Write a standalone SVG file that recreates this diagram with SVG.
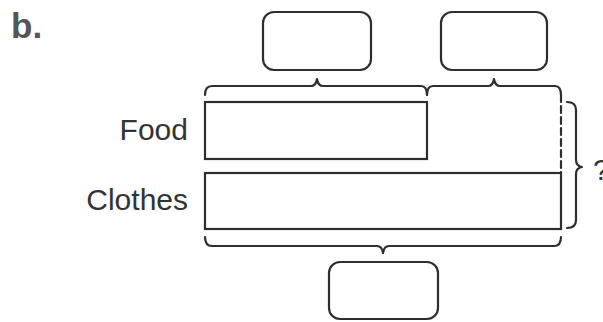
<svg xmlns="http://www.w3.org/2000/svg" width="603" height="322" viewBox="0 0 603 322">
<style>
.ln{fill:none;stroke:#2e2e2e;stroke-width:2.2;stroke-linejoin:round;stroke-linecap:round}
.box{fill:#fff;stroke:#2e2e2e;stroke-width:2.2}
.lbl{font-family:"Liberation Sans",Arial,sans-serif;font-size:30px;fill:#333}
</style>
<rect width="603" height="322" fill="#fff"/>
<text x="11" y="38" font-family="Liberation Sans,Arial,sans-serif" font-size="35" font-weight="bold" fill="#555">b.</text>
<g id="box-top-left"><rect class="box" x="263" y="12" width="108" height="58" rx="11"/></g>
<g id="box-top-right"><rect class="box" x="441" y="12" width="106" height="58" rx="11"/></g>
<g id="box-bottom"><rect class="box" x="329" y="262" width="109" height="57" rx="11"/></g>
<g id="food">
<text class="lbl" x="188" y="140" text-anchor="end">Food</text>
<rect class="box" x="205" y="102" width="222" height="57"/>
</g>
<g id="clothes">
<text class="lbl" x="188" y="210" text-anchor="end">Clothes</text>
<rect class="box" x="205" y="173" width="356" height="56"/>
</g>
<g id="connectors">
<path class="ln" d="M205,95 Q205,86 212,86 L311,86 Q316,86 317,79 Q318,86 323,86 L421,86 Q427,86 427,95"/>
<path class="ln" d="M427,95 Q427,86 433,86 L488,86 Q493,86 494,79 Q495,86 500,86 L555,86 Q561,86 561,95"/>
<path class="ln" d="M561,95 L561,173" stroke-dasharray="7,4"/>
<path class="ln" d="M567,102 Q576,102 576,110 L576,160 Q576,166 582,167 Q576,168 576,174 L576,220 Q576,228 567,228"/>
<path class="ln" d="M205,237 Q205,246 212,246 L377,246 Q382,246 383,253 Q384,246 389,246 L554,246 Q561,246 561,237"/>
</g>
<text class="lbl" x="593" y="180">?</text>
</svg>
